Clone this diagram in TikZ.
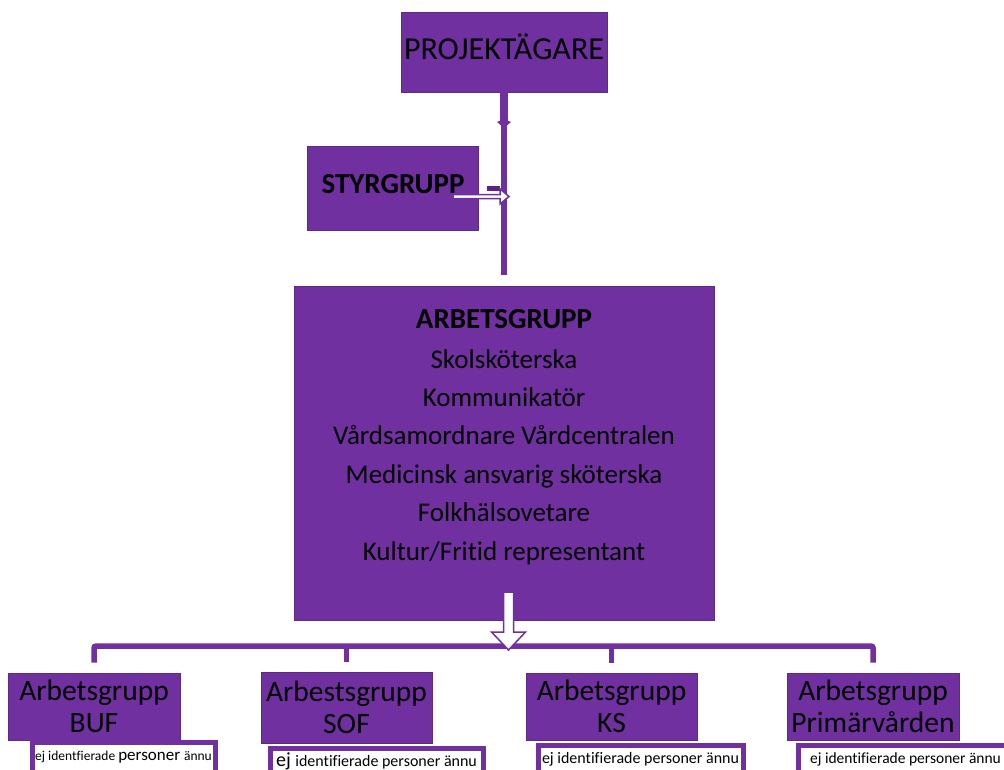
\documentclass[tikz,border=0pt]{standalone}
\usepackage{fontspec}
\setmainfont{Carlito}[Ligatures=NoCommon]
\usetikzlibrary{calc,positioning,arrows.meta}
\definecolor{lila}{HTML}{7030A0}
\definecolor{mork}{HTML}{5E2287}

\tikzset{
  box/.style={fill=lila, draw=lila!85!black, line width=0.6pt, inner sep=0pt},
  conn/.style={draw=lila, line width=5.5pt},
  hollow/.style={fill=white, draw=lila, line width=1.5pt, line join=miter},
  note/.style={fill=white, draw=lila, line width=5pt, anchor=north west,
    inner xsep=3pt, inner ysep=2pt, text height=16pt, text depth=15pt},
  big/.style={font=\fontsize{32}{38}\selectfont},
  head/.style={font=\fontsize{29}{34}\selectfont\bfseries},
  rad/.style={font=\fontsize{27}{32}\selectfont, anchor=base},
  grp/.style={box, align=center, font=\fontsize{29.5}{32}\selectfont},
}

\begin{document}
\begin{tikzpicture}[x=1pt,y=-1pt]
		\useasboundingbox (0,0) rectangle (1004,769);
		%%%%% START %%%%%
		\node[box, minimum width=206pt, minimum height=80pt] (agare) at (504,52) {};
		\node[big] (agaretxt) at (504,47) {PROJEKTÄGARE};
		
		\node[box, minimum width=171pt, minimum height=84pt] (styr) at (392.5,188) {};
		\node[head] (styrtxt) at (393,184) {STYRGRUPP};
		
		\node[box, minimum width=420pt, minimum height=334pt] (arb) at (504,453) {};
		\node[head, anchor=base] (arbtxt) at (504,328) {ARBETSGRUPP};
		\foreach \t [count=\i] in {Skolsköterska, Kommunikatör,
		    Vårdsamordnare Vårdcentralen, Medicinsk ansvarig sköterska,
		    Folkhälsovetare, Kultur/Fritid representant}
		  \node[rad] (rad\i) at (504,{368+38.4*(\i-1)}) {\t};
		
		% vertical line from the owner
		\coordinate (knut) at (504,128);
		\coordinate (slut) at (504,275);
		\draw[conn] (agare.south) -- (slut);
		\draw[conn, line width=8pt, -{Kite[length=9pt,width=14pt,inset=3pt]}] (agare.south) -- (knut);
		
		% arrow from the steering group
		\fill[mork] (487,186) rectangle (500,191);
		\coordinate (sa) at (454,196.5);
		\draw[hollow] (sa) ++(0,-2) -- ++(46,0) -- ++(0,-5.5) -- ++(9,7.5)
		  -- ++(-9,7.5) -- ++(0,-5.5) -- ++(-46,0);
		
		% work groups
		\node[grp, minimum width=172pt, minimum height=67pt] (buf) at (94,706.5) {Arbetsgrupp\\BUF};
		\node[grp, minimum width=171pt, minimum height=71pt] (sof) at (346.5,707.5) {Arbestsgrupp\\SOF};
		\node[grp, minimum width=171pt, minimum height=67pt] (ks) at (611.5,706.5) {Arbetsgrupp\\KS};
		\node[grp, minimum width=172pt, minimum height=67pt] (prim) at (873,706.5) {Arbetsgrupp\\Primärvården};
		
		\node[note, minimum width=183pt] (bufnot) at (29.5,739.5)
		  {\fontsize{13.5}{15}\selectfont ej identfierade \fontsize{17}{15}\selectfont personer
		   \fontsize{13.5}{15}\selectfont ännu};
		\node[note, minimum width=213pt] (sofnot) at (267.5,745.5)
		  {\fontsize{20}{15}\selectfont ej \fontsize{16}{15}\selectfont identifierade personer ännu};
		\node[note, minimum width=205pt] (ksnot) at (535.5,742.5)
		  {\fontsize{16}{15}\selectfont ej identifierade personer ännu};
		\node[note, minimum width=215pt] (primnot) at (795.5,742.5)
		  {\fontsize{15.5}{15}\selectfont ej identifierade personer ännu};
		
		% bar to the work groups
		\coordinate (bar) at (504,646);
		\draw[conn, rounded corners=2pt] (buf.north) ++(0,-10) |- (bar) -| ($(prim.north)+(0,-10)$);
		\draw[conn] (sof.north) ++(0,-10) -- (sof.north |- bar);
		\draw[conn] (ks.north) ++(0,-10) -- (ks.north |- bar);
		
		\coordinate (da) at (508.5,593);
		\draw[hollow] (da) ++(-5,0) -- ++(0,39) -- ++(-12,0) -- ++(17,18)
		  -- ++(17,-18) -- ++(-12,0) -- ++(0,-39);
		%%%%% END %%%%%
\end{tikzpicture}
\end{document}
